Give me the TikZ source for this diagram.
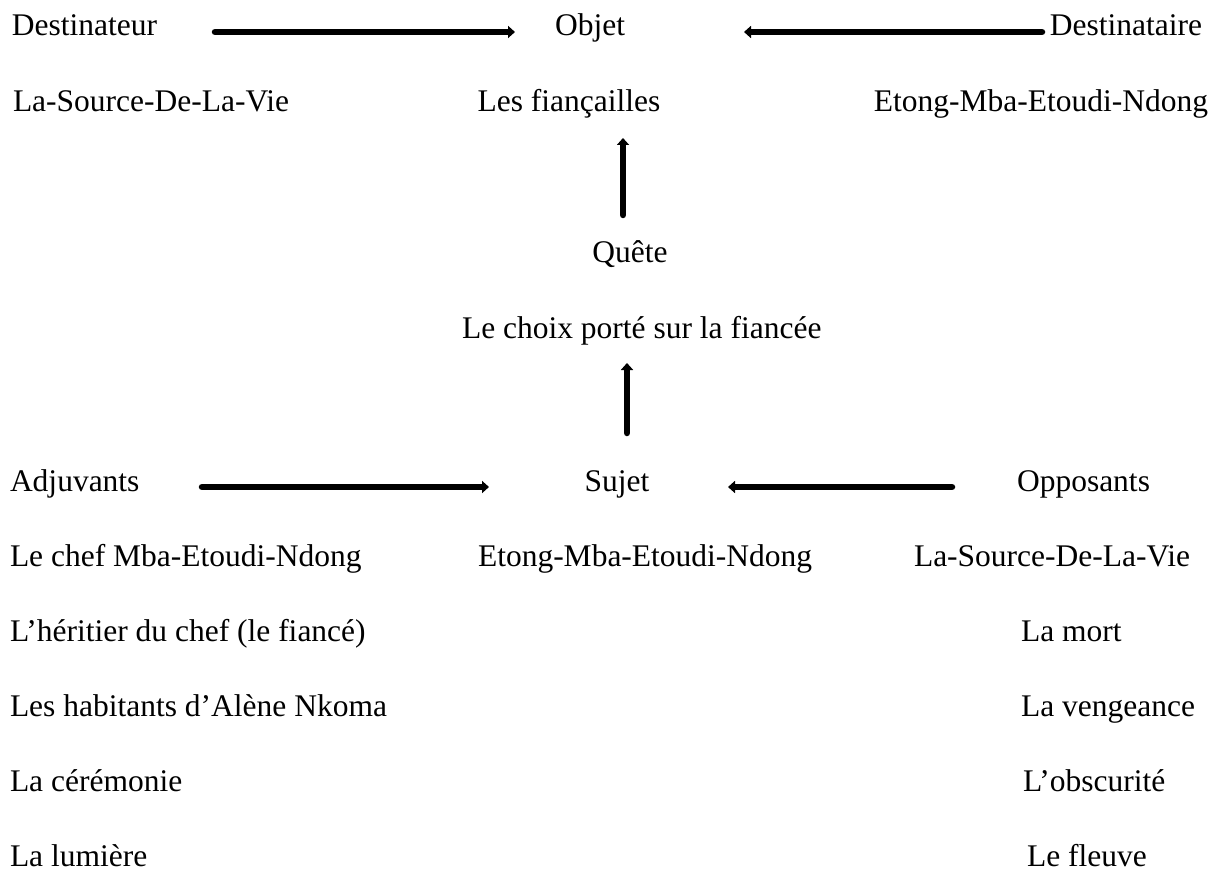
\documentclass[tikz,border=0pt]{standalone}
\usepackage{fontspec}
\setmainfont{Liberation Serif}
\usetikzlibrary{arrows.meta}
\begin{document}
\begin{tikzpicture}[x=1pt,y=-1pt,
  lbl/.style={inner sep=0pt,outer sep=0pt,font=\fontsize{31.5}{36}\selectfont},
  conn/.style={line width=6.5pt,line cap=round,-{Triangle[width=12pt,length=7pt]}}]
\useasboundingbox (0,0) rectangle (1223,874);
% top row
\node[lbl,anchor=base west] (destinateur) at (12,36) {Destinateur};
\node[lbl,anchor=base] (objet) at (590,36) {Objet};
\node[lbl,anchor=base east] (destinataire) at (1202,36) {Destinataire};
\node[lbl,anchor=base west] (source1) at (13,112) {La-Source-De-La-Vie};
\node[lbl,anchor=base] (fiancailles) at (569,112) {Les fiançailles};
\node[lbl,anchor=base east] (etong1) at (1208,112) {Etong-Mba-Etoudi-Ndong};
% middle
\node[lbl,anchor=base] (quete) at (630,263) {Quête};
\node[lbl,anchor=base west] (choix) at (462,339) {Le choix porté sur la fiancée};
% actants row
\node[lbl,anchor=base west] (adjuvants) at (10,491) {Adjuvants};
\node[lbl,anchor=base] (sujet) at (617,491) {Sujet};
\node[lbl,anchor=base west] (opposants) at (1017,491) {Opposants};
\node[lbl,anchor=base west] (chef) at (10,566) {Le chef Mba-Etoudi-Ndong};
\node[lbl,anchor=base west] (etong2) at (478,566) {Etong-Mba-Etoudi-Ndong};
\node[lbl,anchor=base west] (source2) at (914,566) {La-Source-De-La-Vie};
\node[lbl,anchor=base west] (heritier) at (10,641) {L’héritier du chef (le fiancé)};
\node[lbl,anchor=base west] (habitants) at (10,716) {Les habitants d’Alène Nkoma};
\node[lbl,anchor=base west] (ceremonie) at (10,791) {La cérémonie};
\node[lbl,anchor=base west] (lumiere) at (10,866) {La lumière};
\node[lbl,anchor=base west] (mort) at (1021,641) {La mort};
\node[lbl,anchor=base west] (vengeance) at (1021,716) {La vengeance};
\node[lbl,anchor=base west] (obscurite) at (1023,791) {L’obscurité};
\node[lbl,anchor=base west] (fleuve) at (1027,866) {Le fleuve};
% arrow end points
\coordinate (a1s) at (215,32);  \coordinate (a1e) at (515,32);
\coordinate (a2s) at (1042,32); \coordinate (a2e) at (744,32);
\coordinate (v1s) at (623,215); \coordinate (v1e) at (623,138);
\coordinate (v2s) at (627,433); \coordinate (v2e) at (627,363);
\coordinate (a3s) at (202,487); \coordinate (a3e) at (489,487);
\coordinate (a4s) at (952,487); \coordinate (a4e) at (728,487);
\draw[conn] (a1s) -- (a1e);
\draw[conn] (a2s) -- (a2e);
\draw[conn] (v1s) -- (v1e);
\draw[conn] (v2s) -- (v2e);
\draw[conn] (a3s) -- (a3e);
\draw[conn] (a4s) -- (a4e);
\end{tikzpicture}
\end{document}
